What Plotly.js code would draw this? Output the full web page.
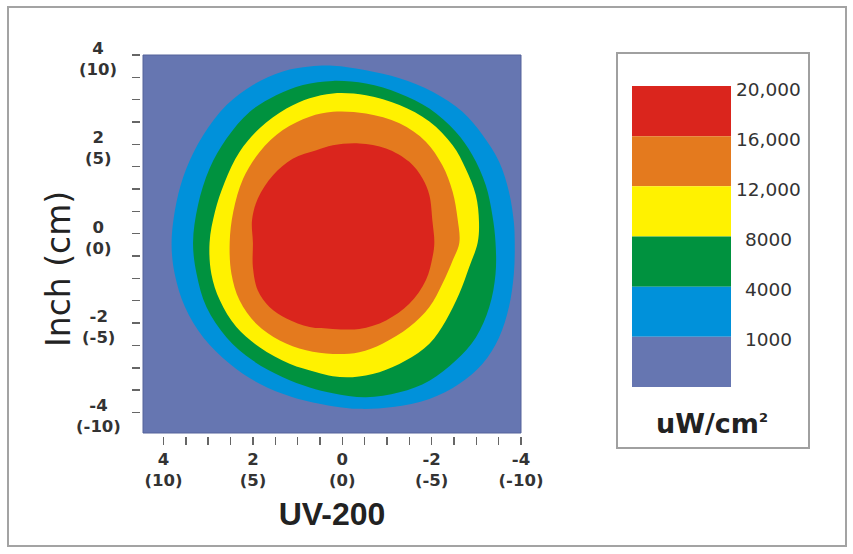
<!DOCTYPE html>
<html>
<head>
<meta charset="utf-8">
<script src="https://cdn.plot.ly/plotly-3.0.1.min.js"></script>
<style>
html,body{margin:0;padding:0;background:#ffffff;}
#chart{width:853px;height:554px;}
</style>
</head>
<body>
<div id="chart"></div>
<script>
// ---- iso-intensity boundaries read from the map (inch); each closes on itself ----
// >= 1000 uW/cm2
const iso1000X = [0.21,0.73,1.33,2.00,2.59,3.11,3.49,3.71,3.82,3.75,3.52,3.11,2.52,1.85,1.11,0.21,-0.38,-1.13,-1.95,-2.62,-3.14,-3.51,-3.73,-3.84,-3.86,-3.84,-3.73,-3.51,-3.14,-2.69,-2.02,-1.28,-0.53];
const iso1000Y = [3.76,3.74,3.63,3.33,2.88,2.21,1.46,0.71,-0.20,-0.90,-1.64,-2.32,-2.91,-3.36,-3.66,-3.86,-3.92,-3.88,-3.70,-3.36,-2.91,-2.32,-1.64,-0.90,-0.20,0.26,0.94,1.61,2.21,2.73,3.18,3.48,3.66];
// >= 4000
const iso4000X = [0.21,0.88,1.48,2.07,2.59,2.97,3.23,3.34,3.26,3.04,2.59,2.00,1.33,0.73,0.21,-0.53,-1.28,-1.95,-2.54,-2.99,-3.29,-3.43,-3.43,-3.36,-3.21,-2.91,-2.54,-1.95,-1.28,-0.53];
const iso4000Y = [3.42,3.33,3.10,2.73,2.13,1.46,0.64,-0.20,-0.90,-1.64,-2.32,-2.84,-3.21,-3.44,-3.57,-3.66,-3.55,-3.29,-2.84,-2.32,-1.64,-0.90,-0.20,0.41,1.09,1.76,2.28,2.80,3.14,3.36];
// >= 8000
const iso8000X = [0.21,0.73,1.25,1.85,2.30,2.63,2.85,2.97,2.93,2.74,2.37,1.85,1.18,0.58,0.21,-0.23,-0.83,-1.42,-1.95,-2.32,-2.62,-2.84,-3.03,-3.06,-2.99,-2.76,-2.47,-1.95,-1.28,-0.53];
const iso8000Y = [3.14,3.03,2.80,2.36,1.83,1.16,0.49,-0.20,-0.90,-1.49,-2.09,-2.54,-2.91,-3.10,-3.19,-3.21,-3.10,-2.84,-2.46,-1.94,-1.34,-0.75,-0.20,0.26,0.86,1.46,1.98,2.51,2.88,3.10];
// >= 12000
const iso12000X = [0.21,0.73,1.33,1.85,2.22,2.44,2.52,2.48,2.30,1.92,1.40,0.81,0.21,-0.38,-0.90,-1.50,-1.95,-2.24,-2.47,-2.62,-2.58,-2.47,-2.24,-1.87,-1.28,-0.53];
const iso12000Y = [2.73,2.62,2.32,1.83,1.23,0.49,-0.20,-0.90,-1.49,-2.02,-2.39,-2.61,-2.69,-2.65,-2.46,-2.09,-1.64,-1.12,-0.60,-0.20,0.34,0.94,1.53,2.06,2.47,2.69];
// >= 16000
const iso16000X = [0.21,0.58,1.11,1.55,1.89,2.02,2.00,2.00,1.89,1.63,1.25,0.73,0.21,-0.38,-0.98,-1.50,-1.87,-2.02,-2.06,-2.02,-1.95,-1.80,-1.50,-0.98,-0.38];
const iso16000Y = [1.98,1.87,1.68,1.31,0.79,0.30,-0.20,-0.75,-1.27,-1.64,-1.90,-2.09,-2.13,-2.13,-1.94,-1.57,-1.04,-0.52,-0.20,0.26,0.86,1.23,1.61,1.91,2.02];

// ---- colour classes (low -> high) ----
const levelValues = [1000, 4000, 8000, 12000, 16000];
const bandColors  = ['#6676b1', '#0091da', '#00923f', '#fff200', '#e47a1e', '#da251d'];

// ---- legend labels (top -> bottom) ----
const legendLabels = ['20,000', '16,000', '12,000', '8000', '4000', '1000'];
const legendTitle = 'uW/cm<sup><span style="font-size:13px">2</span></sup>';

// ---- tick labels ----
const xTickVals = [4, 2, 0, -2, -4];
const xTickText = ['4<br>(10)', '2<br>(5)', '0<br>(0)', '-2<br>(-5)', '-4<br>(-10)'];
const yTickVals = [4, 2, 0, -2, -4];
const yTickText = ['4<br>(10)', '2<br>(5)', '0<br>(0)', '-2<br>(-5)', '-4<br>(-10)'];

// ---- geometry ----
const W = 853, H = 554;
const M = {l: 140, r: 332, t: 55, b: 118};
const PW = W - M.l - M.r, PH = H - M.t - M.b;
const px = x => (x - M.l) / PW;
const py = y => 1 - (y - M.t) / PH;

const FONT = 'Liberation Sans, Arial, sans-serif';
const WIDE = 'DejaVu Sans, Verdana, sans-serif';

const isoSets = [
  [iso1000X, iso1000Y], [iso4000X, iso4000Y], [iso8000X, iso8000Y],
  [iso12000X, iso12000Y], [iso16000X, iso16000Y]
];
const traces = isoSets.map((s, i) => ({
  type: 'scatter', mode: 'lines',
  name: '≥ ' + levelValues[i],
  x: s[0].concat([s[0][0]]), y: s[1].concat([s[1][0]]),
  fill: 'toself', fillcolor: bandColors[i + 1],
  line: {width: 0, shape: 'spline', smoothing: 1, color: bandColors[i + 1]},
  hoverinfo: 'skip', showlegend: false
}));

// half-inch minor tick marks
const halfTicks = [];
for (let k = -8; k <= 8; k++) halfTicks.push(k / 2);

const tickStyle = {ticks: 'outside', ticklen: 8, tickwidth: 1.5, tickcolor: '#666'};

const shapes = [];
const annotations = [];

// outer frame
shapes.push({type: 'rect', xref: 'paper', yref: 'paper', x0: px(8), x1: px(846), y0: py(546), y1: py(7),
  line: {color: '#a3a3a3', width: 2}, fillcolor: 'rgba(0,0,0,0)', layer: 'below'});
// plot edge
shapes.push({type: 'rect', xref: 'paper', yref: 'paper', x0: px(143), x1: 1, y0: py(433), y1: 1,
  line: {color: '#55639a', width: 1}, fillcolor: 'rgba(0,0,0,0)'});
// legend box
shapes.push({type: 'rect', xref: 'paper', yref: 'paper', x0: px(617), x1: px(809), y0: py(448), y1: py(53),
  line: {color: '#a0a0a0', width: 2}, fillcolor: 'rgba(0,0,0,0)'});
// legend colour bands
const bandTop = 86, bandH = 50.17;
legendLabels.forEach((lab, i) => {
  const top = bandTop + i * bandH;
  shapes.push({type: 'rect', xref: 'paper', yref: 'paper', x0: px(632), x1: px(731), y0: py(top + bandH), y1: py(top),
    line: {width: 0}, fillcolor: bandColors[bandColors.length - 1 - i]});
  annotations.push({xref: 'paper', yref: 'paper', x: px(768), y: py(top + 3), text: lab, showarrow: false,
    xanchor: 'center', yanchor: 'middle', font: {family: WIDE, size: 18.5, color: '#333'}});
});
annotations.push({xref: 'paper', yref: 'paper', x: px(712), y: py(423), text: legendTitle, showarrow: false,
  xanchor: 'center', yanchor: 'middle', font: {family: WIDE, size: 27, color: '#222', weight: 'bold'}});

// y tick labels (centred blocks)
yTickVals.forEach((v, i) => {
  annotations.push({xref: 'paper', yref: 'y', x: px(98), y: v, yshift: -4, text: yTickText[i], showarrow: false,
    xanchor: 'center', yanchor: 'middle', align: 'center', font: {family: WIDE, size: 16.5, color: '#333', weight: 'bold'}});
});
// y axis title
annotations.push({xref: 'paper', yref: 'paper', x: px(58), y: py(269), text: 'Inch (cm)', textangle: -90, showarrow: false,
  xanchor: 'center', yanchor: 'middle', font: {family: WIDE, size: 33, color: '#222'}});

const layout = {
  width: W, height: H,
  margin: M,
  paper_bgcolor: '#ffffff', plot_bgcolor: bandColors[0],
  showlegend: false,
  xaxis: Object.assign({
    range: [4.46, -4.0], domain: [px(143), 1], anchor: 'free', position: 0,
    tickmode: 'array', tickvals: xTickVals, ticktext: xTickText, tickangle: 0,
    minor: Object.assign({tickmode: 'array', tickvals: halfTicks, showgrid: false}, tickStyle),
    showgrid: false, zeroline: false, showline: false,
    tickfont: {family: WIDE, size: 16.5, color: '#333', weight: 'bold'},
    title: {text: 'UV-200', standoff: 13, font: {family: FONT, size: 32, color: '#222', weight: 'bold'}}
  }, tickStyle),
  yaxis: Object.assign({
    range: [-4.46, 4.0], domain: [py(433), 1], anchor: 'free', position: 0,
    tickmode: 'array', tickvals: yTickVals, showticklabels: false,
    minor: Object.assign({tickmode: 'array', tickvals: halfTicks, showgrid: false}, tickStyle),
    showgrid: false, zeroline: false, showline: false
  }, tickStyle),
  shapes: shapes,
  annotations: annotations
};

Plotly.newPlot('chart', traces, layout, {displayModeBar: false, staticPlot: true});
</script>
</body>
</html>
